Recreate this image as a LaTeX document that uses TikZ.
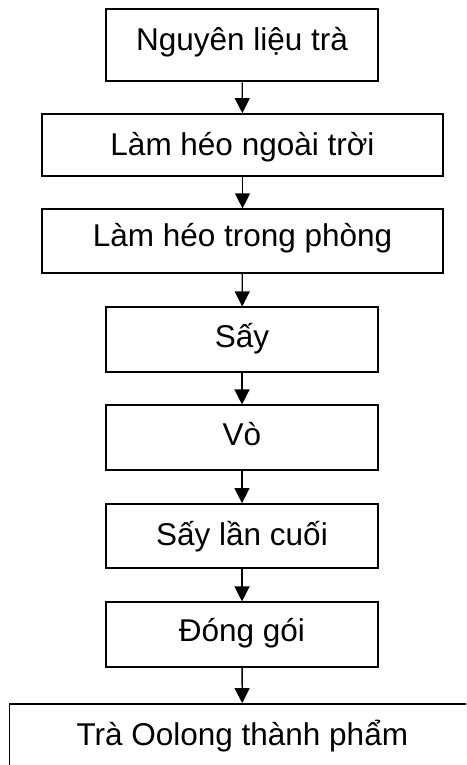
\documentclass[tikz,border=0pt]{standalone}
\usepackage{fontspec}
\setmainfont{Liberation Sans}
\usetikzlibrary{arrows.meta}
\begin{document}
\begin{tikzpicture}[x=1pt,y=-1pt,
  box/.style={draw=black,line width=1.8pt,rectangle,inner sep=0pt,
    font=\fontsize{31.5}{36}\selectfont,text height=23pt,anchor=center},
  small/.style={box,minimum width=272pt},
  wide/.style={box,minimum width=401pt},
  arr/.style={line width=1.3pt,-{Triangle[width=15pt,length=15pt]}}]
\clip (0,0) rectangle (466,765);
\fill[white] (0,0) rectangle (466,765);
\node[small,minimum height=72pt,text depth=13.2pt] (b1) at (242,45.4) {Nguyên liệu trà};
\node[wide,minimum height=62pt,text depth=2.4pt] (b2) at (242.5,145) {Làm héo ngoài trời};
\node[wide,minimum height=64pt,text depth=13.6pt] (b3) at (242.5,241.3) {Làm héo trong phòng};
\node[small,minimum height=65pt,text depth=8pt] (b4) at (242,339.8) {Sấy};
\node[small,minimum height=64.7pt,text depth=8.4pt] (b5) at (242,437.7) {Vò};
\node[small,minimum height=64.3pt,text depth=5.4pt] (b6) at (242,536.2) {Sấy lần cuối};
\node[small,minimum height=64.7pt,text depth=9pt] (b7) at (242,634.7) {Đóng gói};
\node[box,minimum width=465.5pt,minimum height=70pt,text depth=11pt] (b8) at (242.3,739) {Trà Oolong thành phẩm};
\draw[arr] (b1) -- (b2);
\draw[arr] (b2) -- (b3);
\draw[arr] (b3) -- (b4);
\draw[arr] (b4) -- (b5);
\draw[arr] (b5) -- (b6);
\draw[arr] (b6) -- (b7);
\draw[arr] (b7) -- (b8);
\end{tikzpicture}
\end{document}
